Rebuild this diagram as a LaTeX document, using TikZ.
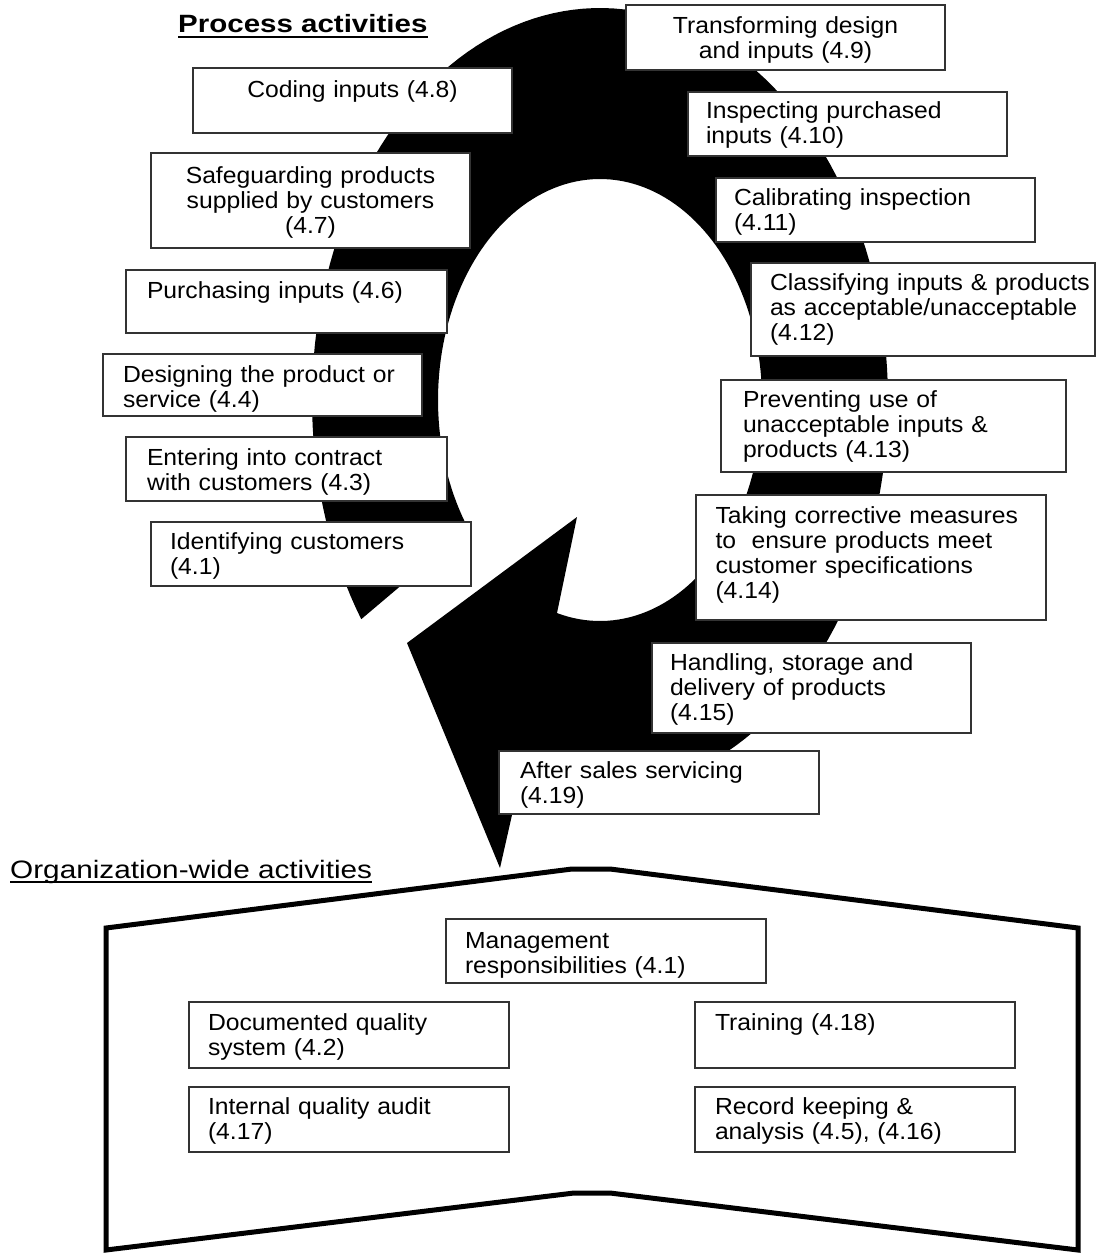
\documentclass[tikz,border=0pt]{standalone}
\usepackage{fontspec}
\setmainfont[FakeStretch=1.06]{Liberation Sans}
\newfontfamily\headfont[FakeStretch=1.18]{Liberation Sans}
\newcommand\bxfont{\fontsize{23.3}{25}\selectfont\hyphenpenalty=10000\exhyphenpenalty=10000}
\begin{document}
\begin{tikzpicture}[x=1pt,y=-1pt,
  pbox/.style={draw=black!80, line width=1.6pt, fill=white, anchor=north west,
    outer sep=0pt, inner ysep=0pt, inner xsep=19pt, font=\bxfont, align=left},
  cbox/.style={pbox, align=center},
  wall/.style={line width=5pt, line join=miter}]
\useasboundingbox (0,0) rectangle (1097,1253);

% the black cycle arrow: elliptic band with a pointed tail and a downward head
\fill[black]
  plot[domain=146:466, samples=160, variable=\t] ({600+288*cos(\t)},{400+392*sin(\t)})
  -- (500,868) -- (407,643) -- (577,517) -- (557,613)
  -- plot[domain=105.4:-215.6, samples=160, variable=\t] ({600+162*cos(\t)},{400+221*sin(\t)})
  -- cycle;

% headings
\node[anchor=base west, inner sep=0pt, font=\headfont\bfseries\fontsize{25}{30}\selectfont]
  (phead) at (178,32) {Process activities};
\draw[line width=2.5pt] ([yshift=-5pt]phead.base west) -- ([yshift=-5pt]phead.base east);
\node[anchor=base west, inner sep=0pt, font=\headfont\fontsize{25.2}{30}\selectfont]
  (ohead) at (10,878) {Organization-wide activities};
\draw[line width=1.5pt] ([yshift=-4pt]ohead.base west) -- ([yshift=-4pt]ohead.base east);

% process activities
\node[cbox, text width=281pt, text height=28pt, text depth=37pt] (p49) at (626,5)
  {Transforming design\\and inputs (4.9)};
\node[cbox, text width=281pt, text height=29pt, text depth=36pt] (p48) at (193,68)
  {Coding inputs (4.8)};
\node[pbox, text width=283pt, inner xsep=18pt, text height=26pt, text depth=38pt] (p410) at (688,92)
  {Inspecting purchased\\inputs (4.10)};
\node[cbox, text width=281pt, text height=30pt, text depth=65pt] (p47) at (151,153)
  {Safeguarding products\\supplied by customers\\(4.7)};
\node[pbox, text width=283pt, inner xsep=18pt, text height=27pt, text depth=37pt] (p411) at (716,178)
  {Calibrating inspection\\(4.11)};
\node[pbox, text width=279pt, inner xsep=21pt, text height=28pt, text depth=35pt] (p46) at (126,270)
  {Purchasing inputs (4.6)};
\node[pbox, text width=306pt, text height=27pt, text depth=66pt] (p412) at (751,263)
  {\mbox{Classifying inputs \& products}\\\mbox{as acceptable/unacceptable}\\(4.12)};
\node[pbox, text width=279pt, inner xsep=20pt, text height=28pt, text depth=34pt] (p44) at (103,354)
  {Designing the product or\\service (4.4)};
\node[pbox, text width=301pt, inner xsep=22pt, text height=27pt, text depth=65pt] (p413) at (721,380)
  {Preventing use of\\unacceptable inputs \&\\products (4.13)};
\node[pbox, text width=279pt, inner xsep=21pt, text height=28pt, text depth=36pt] (p43) at (126,437)
  {Entering into contract\\with customers (4.3)};
\node[pbox, text width=311pt, inner xsep=19.5pt, text height=28pt, text depth=97pt] (p414) at (696,495)
  {Taking corrective measures\\to\ \ ensure products meet\\customer specifications\\(4.14)};
\node[pbox, text width=282pt, text height=27pt, text depth=37pt] (p41) at (151,522)
  {Identifying customers\\(4.1)};
\node[pbox, text width=283pt, inner xsep=18pt, text height=27pt, text depth=63pt] (p415) at (652,643)
  {Handling, storage and\\delivery of products\\(4.15)};
\node[pbox, text width=278pt, inner xsep=21pt, text height=27pt, text depth=36pt] (p419) at (499,751)
  {After sales servicing\\(4.19)};

% organization-wide activities
\draw[wall] (106,928) -- (572,869) -- (610,869) -- (1078,928) -- (1078,1250)
  -- (610,1193) -- (574,1193) -- (106,1250) -- cycle;
\node[pbox, text width=282pt, text height=29pt, text depth=35pt] (o41) at (446,919)
  {Management\\responsibilities (4.1)};
\node[pbox, text width=282pt, text height=28pt, text depth=38pt] (o42) at (189,1002)
  {Documented quality\\system (4.2)};
\node[pbox, text width=280pt, inner xsep=20pt, text height=28pt, text depth=38pt] (o418) at (695,1002)
  {Training (4.18)};
\node[pbox, text width=282pt, text height=27pt, text depth=38pt] (o417) at (189,1087)
  {Internal quality audit\\(4.17)};
\node[pbox, text width=280pt, inner xsep=20pt, text height=27pt, text depth=38pt] (o45) at (695,1087)
  {Record keeping \&\\analysis (4.5), (4.16)};
\end{tikzpicture}
\end{document}
